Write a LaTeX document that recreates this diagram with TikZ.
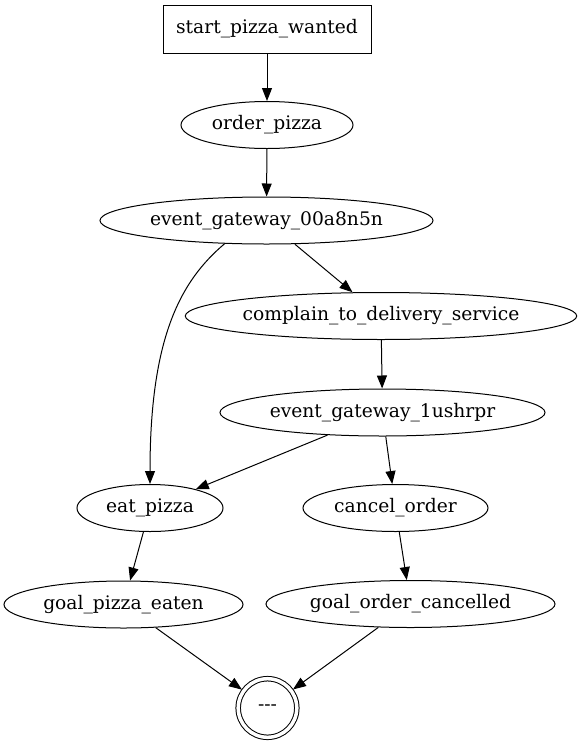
\documentclass[tikz,border=0pt]{standalone}
\usepackage{fontspec}
\setmainfont{DejaVu Serif}
\usetikzlibrary{arrows.meta,shapes.geometric}

\begin{document}
\begin{tikzpicture}[x=1pt, y=-1pt, font=\fontsize{18.67}{22}\selectfont,
  state/.style={draw, ellipse, line width=1pt, minimum height=47pt, inner sep=0pt},
  flow/.style={-{Triangle[length=13pt,width=10pt]}, line width=1pt}]
\useasboundingbox (0,0) rectangle (582,745);

% Start and order
\node[draw, rectangle, line width=1pt, minimum width=208pt, minimum height=48pt] (Start) at (267,29) {start\_pizza\_wanted};
\node[state, minimum width=172pt] (Order) at (267,125) {order\_pizza};
\node[state, minimum width=333pt] (GwA) at (266.5,220.5) {event\_gateway\_00a8n5n};
\draw[flow] (Start) -- (Order);
\draw[flow] (Order) -- (GwA);

% Complaint branch
\node[state, minimum width=388pt] (Complain) at (381,316) {complain\_to\_delivery\_service};
\node[state, minimum width=325pt] (GwB) at (382.5,412.5) {event\_gateway\_1ushrpr};
\draw[flow] (GwA) -- (Complain);
\draw[flow] (Complain) -- (GwB);

% Outcomes
\node[state, minimum width=146pt] (Eat) at (150,508) {eat\_pizza};
\node[state, minimum width=185pt] (Cancel) at (395.5,508) {cancel\_order};
\draw[flow] (GwA.209) .. controls +(-45,38) and +(0,-145) .. (Eat.north);
\draw[flow] (GwB) -- (Eat);
\draw[flow] (GwB) -- (Cancel);

% Goals
\node[state, minimum width=239pt] (GoalEat) at (123.5,604.5) {goal\_pizza\_eaten};
\node[state, minimum width=289pt] (GoalCancel) at (410.5,604) {goal\_order\_cancelled};
\node[draw, circle, double, line width=1pt, double distance=3.5pt, minimum size=58.6pt, inner sep=0pt, outer sep=2.2pt] (End) at (267.5,708) {{-}{-}{-}};
\draw[flow] (Eat) -- (GoalEat);
\draw[flow] (Cancel) -- (GoalCancel);
\draw[flow] (GoalEat) -- (End);
\draw[flow] (GoalCancel) -- (End);
\end{tikzpicture}
\end{document}
